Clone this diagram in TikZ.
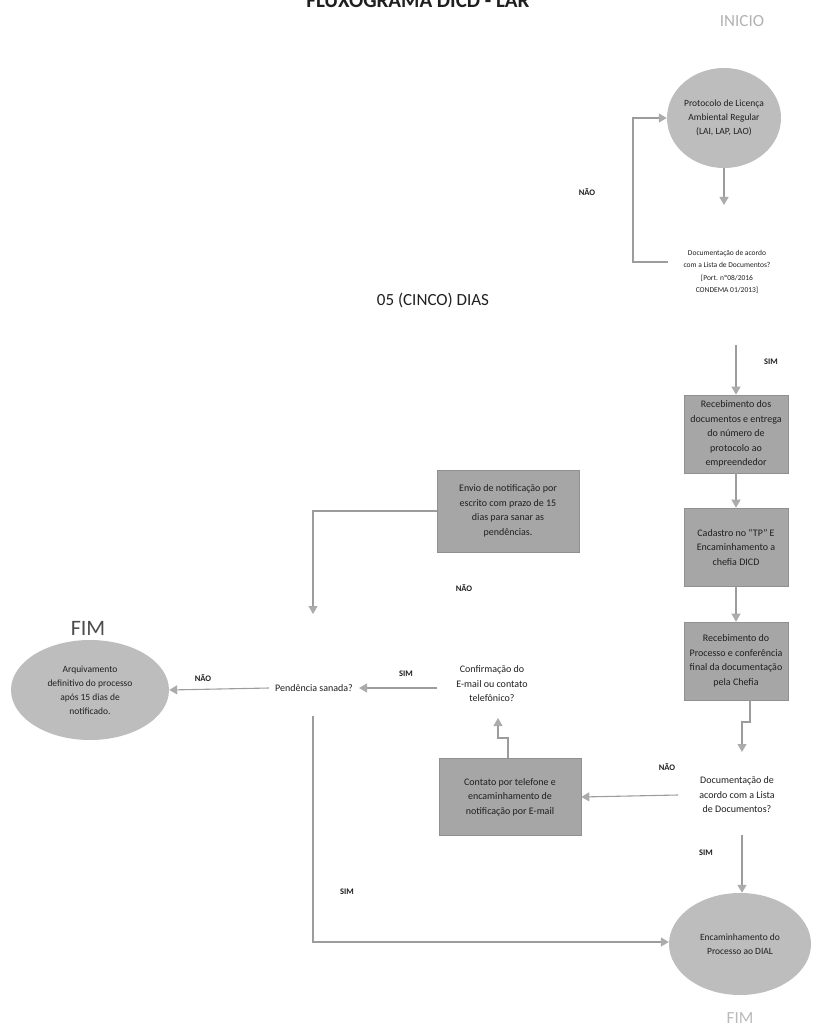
\documentclass[tikz,border=0pt]{standalone}
\usepackage{fontspec}
\setmainfont{Carlito}
\usetikzlibrary{shapes.geometric,arrows.meta}
\definecolor{boxfill}{HTML}{A6A6A6}
\definecolor{boxline}{HTML}{909090}
\definecolor{ellfill}{HTML}{BDBDBD}
\definecolor{linecol}{HTML}{9C9C9C}
\definecolor{tipcol}{HTML}{ABABAB}
\definecolor{txt}{HTML}{1F1F1F}
\tikzset{
  procbox/.style={rectangle, fill=boxfill, draw=boxline, line width=0.6pt, align=center, text=txt, font=\fontsize{10}{14.5}\selectfont, inner sep=3pt},
  termell/.style={ellipse, fill=ellfill, draw=none, align=center, text=txt, font=\fontsize{9.5}{14}\selectfont, inner sep=0pt},
  dectext/.style={align=center, text=txt, font=\fontsize{10}{14.5}\selectfont, inner sep=2pt},
  yesno/.style={text=txt, font=\bfseries\fontsize{8.5}{10}\selectfont},
  conn/.style={draw=linecol, line width=1.1pt},
  arr/.style={conn, -{Triangle[width=9pt,length=8pt,fill=tipcol,color=tipcol]}},
  bigword/.style={font=\fontsize{17}{20}\selectfont}
}
\begin{document}
\begin{tikzpicture}[x=1pt,y=-1pt]
\useasboundingbox (0,0) rectangle (828,1032);
% title and headings
\node[anchor=base, font=\bfseries\fontsize{21}{24}\selectfont, text=txt] (title) at (418,8) {FLUXOGRAMA DICD - LAR};
\node[bigword, text=gray!60] (inicio) at (742,21) {INICIO};
\node[bigword, text=txt] (cinco) at (433,300) {05 (CINCO) DIAS};
\node[font=\fontsize{22}{26}\selectfont, text=black!70] (fimA) at (88,628) {FIM};
\node[bigword, text=gray!55] (fimB) at (740,1018) {FIM};

% nodes
\node[termell, minimum width=114, minimum height=100] (ell1) at (724,118)
  {Protocolo de Licença\\Ambiental Regular\\(LAI, LAP, LAO)};
\node[dectext, font=\fontsize{7.5}{12.5}\selectfont] (dec1) at (727,272)
  {Documentação de acordo\\com a Lista de Documentos?\\{[}Port. nº08/2016\\CONDEMA 01/2013{]}};
\node[procbox, minimum width=104, minimum height=78] (box1) at (736,434)
  {Recebimento dos\\documentos e entrega\\do número de\\protocolo ao\\empreendedor};
\node[procbox, minimum width=104, minimum height=78] (box2) at (736,547)
  {Cadastro no ``TP'' E\\Encaminhamento a\\chefia DICD};
\node[procbox, minimum width=104, minimum height=78] (box3) at (736,661)
  {Recebimento do\\Processo e conferência\\final da documentação\\pela Chefia};
\node[dectext] (dec2) at (737,795) {Documentação de\\acordo com a Lista\\de Documentos?};
\node[procbox, minimum width=142, minimum height=77] (box4) at (510,797)
  {Contato por telefone e\\encaminhamento de\\notificação por E-mail};
\node[dectext] (dec3) at (492,684) {Confirmação do\\E-mail ou contato\\telefônico?};
\node[dectext, inner sep=6pt] (pend) at (314,688) {Pendência sanada?};
\node[termell, minimum width=158, minimum height=100] (ell2) at (90,690)
  {Arquivamento\\definitivo do processo\\após 15 dias de\\notificado.};
\node[procbox, minimum width=142, minimum height=82] (box5) at (508,511)
  {Envio de notificação por\\escrito com prazo de 15\\dias para sanar as\\pendências.};
\node[termell, minimum width=142, minimum height=102] (ell3) at (740,944)
  {Encaminhamento do\\Processo ao DIAL};

% labels
\node[yesno] (lnao1) at (587,192) {NÃO};
\node[yesno] (lsim1) at (771,362) {SIM};
\node[yesno] (lnao2) at (667,767) {NÃO};
\node[yesno] (lsim2) at (706,853) {SIM};
\node[yesno] (lsim3) at (406,674) {SIM};
\node[yesno] (lnao3) at (203,678) {NÃO};
\node[yesno] (lnao4) at (464,588) {NÃO};
\node[yesno] (lsim4) at (347,892) {SIM};

% helper coordinates
\coordinate (a1end) at (724,205);
\coordinate (n1s) at (668,262);
\coordinate (n1c) at (633,262);
\coordinate (s1top) at (736,345);
\coordinate (j3a) at (750,722);
\coordinate (j3b) at (742,722);
\coordinate (d2top) at (742,752);
\coordinate (d2w) at (678,795);
\coordinate (j4a) at (508,738);
\coordinate (j4b) at (498,738);
\coordinate (d3bot) at (498,718);
\coordinate (d3w) at (437,688);
\coordinate (b5c) at (313,511);
\coordinate (b5end) at (313,614);
\coordinate (pbot) at (313,716);
\coordinate (pcorner) at (313,942);
\coordinate (d2bot) at (742,835);

% connectors
\draw[arr] (ell1) -- (a1end);
\draw[arr] (n1s) -- (n1c) |- (ell1.west);
\draw[arr] (s1top) -- (box1.north);
\draw[arr] (box1) -- (box2);
\draw[arr] (box2) -- (box3);
\draw[arr] (box3.south -| j3a) -- (j3a) -- (j3b) -- (d2top);
\draw[arr] (d2w) -- (box4.east);
\draw[arr] (box4.north -| j4a) -- (j4a) -- (j4b) -- (d3bot);
\draw[arr] (d3w) -- (pend.east);
\draw[arr] (pend.west) -- (ell2.east);
\draw[arr] (box5.west) -- (b5c) -- (b5end);
\draw[arr] (pbot) -- (pcorner) -- (pcorner -| ell3.west);
\draw[arr] (d2bot) -- (d2bot |- ell3.north);
\end{tikzpicture}
\end{document}
